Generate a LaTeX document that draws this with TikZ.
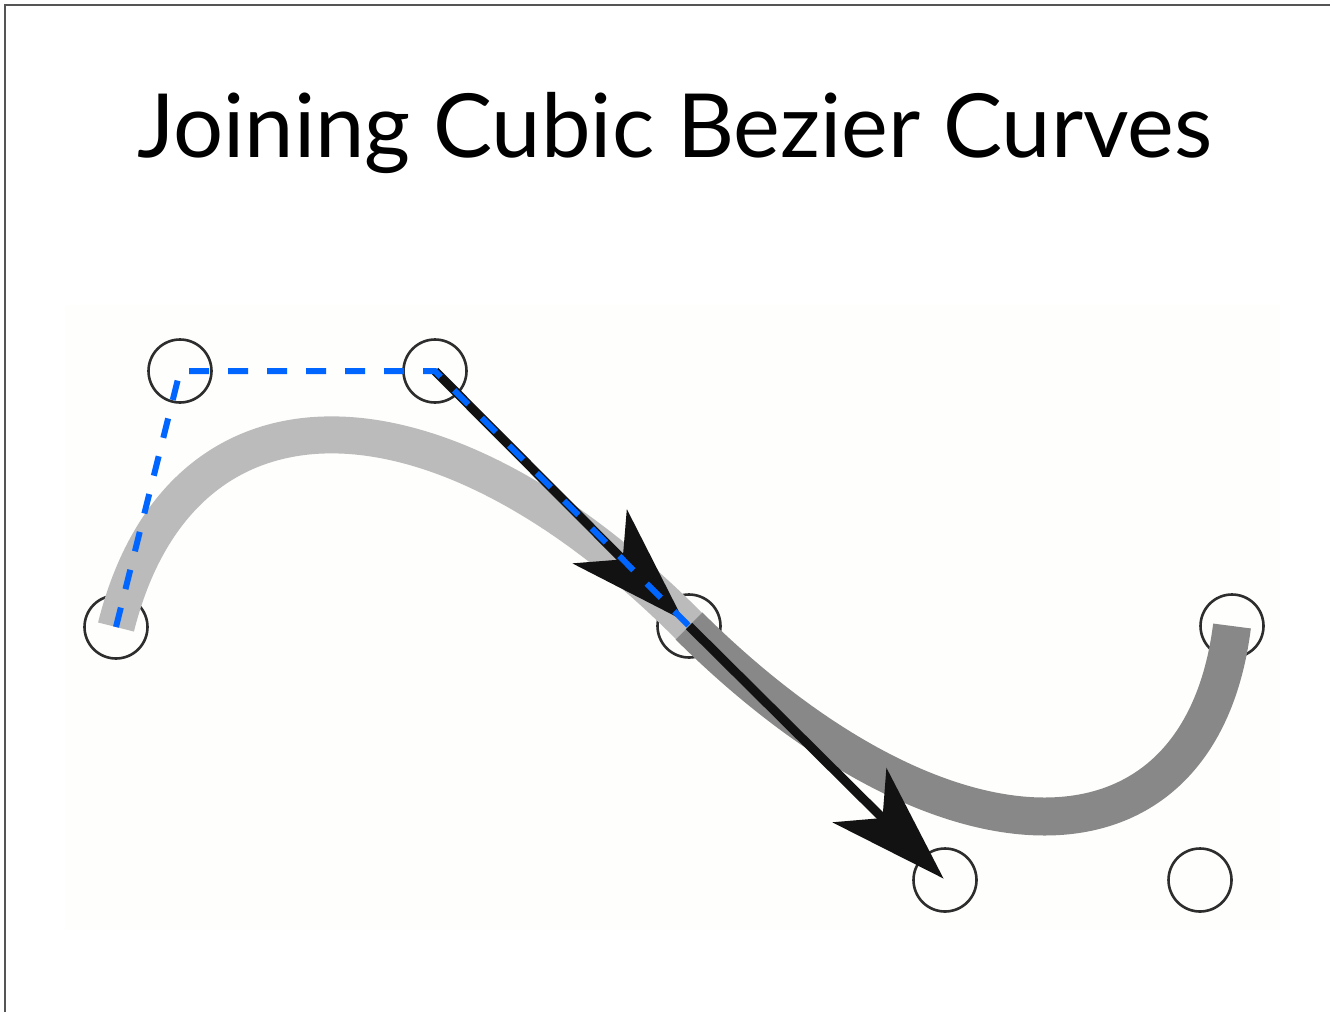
\documentclass[tikz,border=0pt]{standalone}
\usepackage{fontspec}
\setmainfont{Lato}
\usetikzlibrary{arrows.meta}
\definecolor{lightband}{RGB}{187,187,187}
\definecolor{darkband}{RGB}{136,136,136}
\definecolor{dashblue}{RGB}{0,102,255}
\definecolor{ringgray}{RGB}{45,45,45}
\definecolor{framegray}{RGB}{85,85,85}
\definecolor{paper}{RGB}{254,254,252}
\begin{document}
\begin{tikzpicture}[x=1pt,y=-1pt,
  ctrl/.style={circle,draw=ringgray,line width=2.6pt,minimum size=63pt,inner sep=0pt},
  bandA/.style={draw=lightband,line width=37pt,line cap=butt},
  bandB/.style={draw=darkband,line width=38pt,line cap=butt},
  tangent/.style={draw=black!93,line width=9pt,-{Stealth[length=118pt,width=76pt,inset=32pt]}},
  polyline/.style={draw=dashblue,line width=6pt,dash pattern=on 20pt off 19pt},
  frameline/.style={draw=framegray,line width=2pt}]
\useasboundingbox (0,0) rectangle (1332,1012);
\fill[white] (0,0) rectangle (1332,1012);
\fill[paper] (65,305) rectangle (1280,930);
\draw[frameline] (5,1012) -- (5,5) -- (1330,5);
% control points
\node[ctrl] (p0) at (116,627) {};
\node[ctrl] (p1) at (180,371) {};
\node[ctrl] (p2) at (435,371) {};
\node[ctrl] (p3) at (689,626) {};
\node[ctrl] (q1) at (945,880) {};
\node[ctrl] (q2) at (1200,880) {};
\node[ctrl] (q3) at (1232,626) {};
% curves
\draw[bandA] (p0.center) .. controls (p1.center) and (p2.center) .. (p3.center);
\draw[bandB] (p3.center) .. controls (q1.center) and (q2.center) .. (q3.center);
% tangent arrows
\draw[tangent,shorten >=8pt] (p2.center) -- (p3.center);
\draw[tangent,shorten >=2pt] (p3.center) -- (q1.center);
% control polygon
\draw[polyline] (p0.center) -- (p1.center) -- (p2.center) -- (p3.center);
% title
\node[anchor=base,inner sep=0pt,font=\fontsize{88.5}{100}\selectfont] (title) at (675,157) {Joining Cubic Bezier Curves};
\end{tikzpicture}
\end{document}
